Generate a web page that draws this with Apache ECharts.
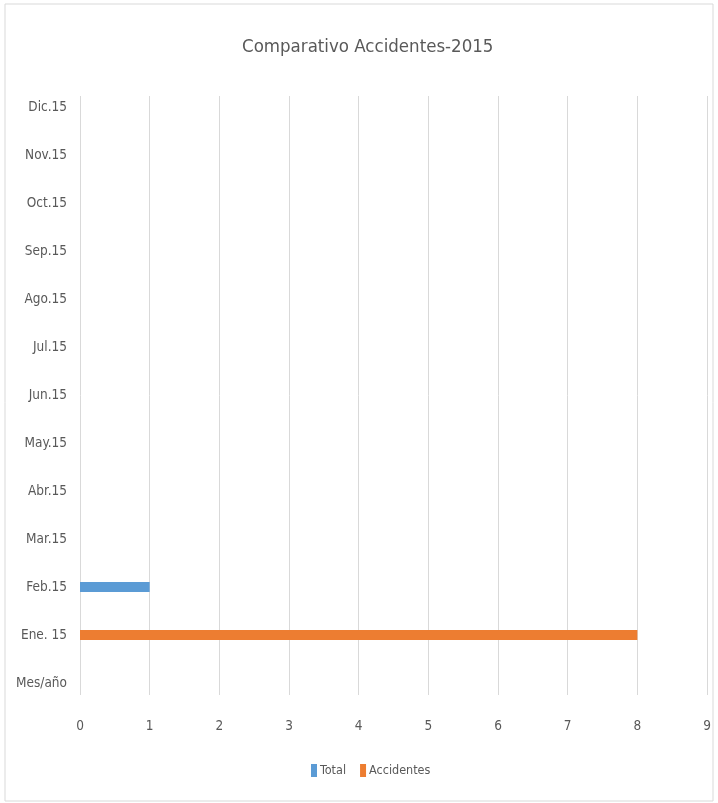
<!DOCTYPE html>
<html>
<head>
<meta charset="utf-8">
<script src="https://cdn.jsdelivr.net/npm/echarts@6/dist/echarts.min.js"></script>
<style>html,body{margin:0;padding:0;background:#fff}#c{width:718px;height:803px}</style>
</head>
<body>
<div id="c"></div>
<script>
var categories = ['Mes/año','Ene. 15','Feb.15','Mar.15','Abr.15','May.15','Jun.15','Jul.15','Ago.15','Sep.15','Oct.15','Nov.15','Dic.15'];
var totalValues = [null, null, 1, null, null, null, null, null, null, null, null, null, null];
var accidentesValues = [null, 8, null, null, null, null, null, null, null, null, null, null, null];
var xTicks = [0, 1, 2, 3, 4, 5, 6, 7, 8, 9];

var FONT = '"DejaVu Sans Condensed", "Open Sans", sans-serif';
var chart = echarts.init(document.getElementById('c'));
chart.setOption({
  animation: false,
  backgroundColor: '#fff',
  title: {
    text: 'Comparativo Accidentes-2015',
    left: 237, top: 33,
    textStyle: { fontFamily: FONT, fontSize: 18.5, fontWeight: 'normal', color: '#595959' }
  },
  legend: {
    bottom: 21, left: 306,
    icon: 'rect', itemWidth: 6, itemHeight: 13, itemGap: 14,
    textStyle: { fontFamily: FONT, fontSize: 12.5, color: '#595959', padding: [0, 0, 0, -2] },
    data: ['Total', 'Accidentes']
  },
  graphic: [{
    type: 'rect', shape: { x: 5, y: 4, width: 708, height: 797 },
    style: { fill: 'none', stroke: '#d9d9d9', lineWidth: 1 }, silent: true
  }],
  grid: [
    { left: 80, right: 11, top: 96, bottom: 108 },
    { left: 80, right: 11, top: 83, bottom: 96 }
  ],
  xAxis: [
    {
      gridIndex: 0, type: 'value', min: xTicks[0], max: xTicks[xTicks.length - 1], interval: 1,
      axisLine: { show: false }, axisTick: { show: false },
      axisLabel: { margin: 24, fontFamily: FONT, fontSize: 13.5, color: '#595959' },
      splitLine: { show: true, lineStyle: { color: '#d9d9d9', width: 1 } }
    },
    {
      gridIndex: 1, type: 'value', min: xTicks[0], max: xTicks[xTicks.length - 1], interval: 1,
      show: false, splitLine: { show: false }
    }
  ],
  yAxis: [
    {
      gridIndex: 0, type: 'category', data: categories, show: false
    },
    {
      gridIndex: 1, type: 'category', data: categories,
      axisLine: { show: false }, axisTick: { show: false },
      axisLabel: { margin: 13, fontFamily: FONT, fontSize: 13.5, color: '#595959' }
    }
  ],
  series: [
    {
      name: 'Total', type: 'bar', xAxisIndex: 1, yAxisIndex: 1,
      data: totalValues, barWidth: 10, barGap: '-100%',
      itemStyle: { color: '#5b9bd5' }
    },
    {
      name: 'Accidentes', type: 'bar', xAxisIndex: 1, yAxisIndex: 1,
      data: accidentesValues, barWidth: 10, barGap: '-100%',
      itemStyle: { color: '#ed7d31' }
    }
  ]
});
</script>
</body>
</html>
